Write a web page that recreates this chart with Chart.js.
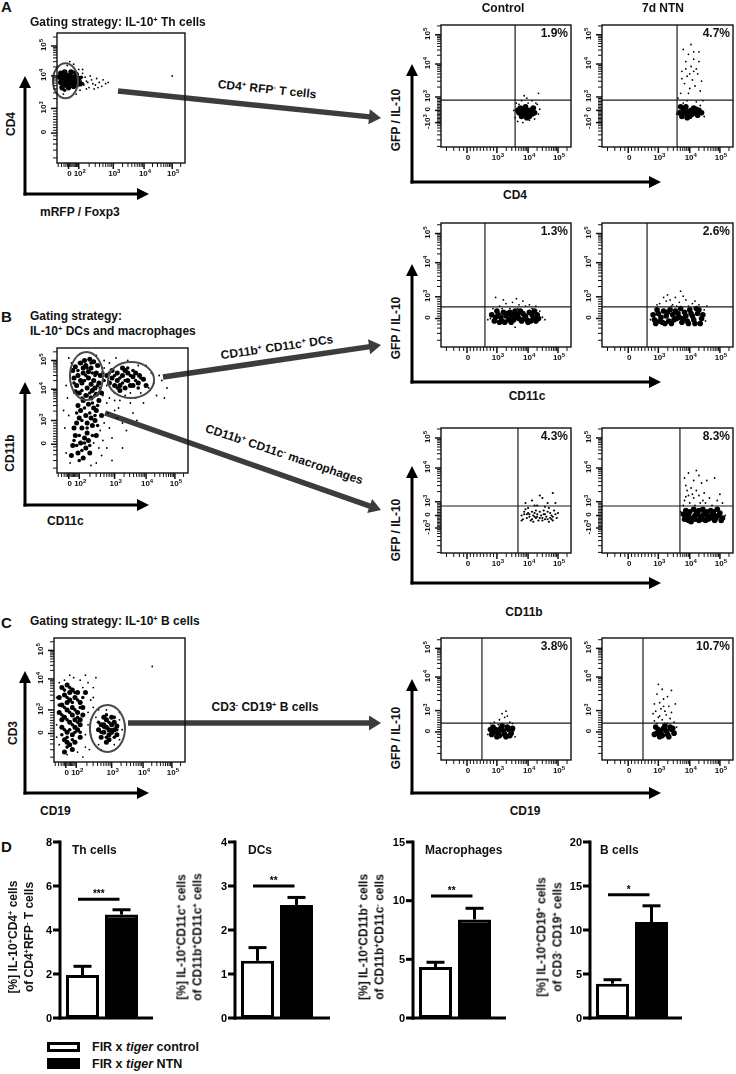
<!DOCTYPE html>
<html>
<head>
<meta charset="utf-8">
<title>IL-10 producing cells</title>
<script src="https://cdn.jsdelivr.net/npm/chart.js@4.4.1/dist/chart.umd.min.js"></script>
<style>
    body { margin: 0; background: #fff; }
    #page { position: relative; width: 736px; height: 1074px; overflow: hidden; background: #fff;
            font-family: "Liberation Sans", Arial, Helvetica, sans-serif; font-weight: bold; color: #111; }
    #page canvas { position: absolute; }
    #arrows { position: absolute; left: 0; top: 0; }
    .txt { position: absolute; white-space: nowrap; line-height: 1.3; text-align: center; }
    .txt sup { font-size: 0.62em; vertical-align: 0.55em; line-height: 0; }
    .box { position: absolute; box-sizing: border-box; border: 3px solid #000; }
</style>
</head>
<body>
<div id="page">
    <svg id="arrows" width="736" height="1074"></svg>
</div>
<script>
// ---------- data ----------

// flow plots: values are in display units (0-100 across each plot frame)
// axis tick positions and labels
const gateXPos = [9, 17, 44, 68, 90];
const gateXLab = ['0', '10^2', '10^3', '10^4', '10^5'];
const gateYPos = [23, 42, 67, 90];
const gateYLab = ['0', '10^3', '10^4', '10^5'];
const rightXPos = [20, 43, 67, 90];
const rightXLab = ['0', '10^3', '10^4', '10^5'];
const rightYPosA = [20, 30, 41, 68, 92];
const rightYLabA = ['-10^3', '0', '10^3', '10^4', '10^5'];
const rightYPosB = [23, 40.5, 68, 91.5];
const rightYLabB = ['0', '10^3', '10^4', '10^5'];

// quadrant percentages (IL-10+ gate)
const quadPct = ['1.9%', '4.7%', '1.3%', '2.6%', '4.3%', '8.3%', '3.8%', '10.7%'];

// A: Th cell gating (CD4 vs mRFP/Foxp3)
const thGateCore = [3,62, 5,66, 7,60, 8,64, 10,67, 12,62, 14,65, 6,70, 9,58, 11,70, 13,59, 15,68, 16,62, 4,58,
    2,66, 17,65, 10,63, 7,67, 12,66, 9,61, 5,62, 15,60, 3,69, 18,61];
const thGateFill = [4,64, 6,62, 8,68, 11,65, 13,63, 16,66, 6,56, 14,70, 19,66, 20,61];
const thGateSpread = [19,63, 21,60, 22,66, 24,62, 25,58, 27,64, 28,61, 30,60, 33,62, 35,59, 38,61, 20,69, 23,57,
    18,56, 26,67, 31,65, 29,57, 8,75, 13,76, 5,53, 15,53, 36,64, 90,67, 10,78, 20,72, 1,74, 32,58, 40,62, 23,63, 17,72];
const thCtrlCore = [60,28, 63,31, 66,27, 69,30, 72,28, 62,25, 65,33, 68,25, 71,32, 64,29, 67,30, 61,32, 70,27,
    66,24, 63,27, 59,30];
const thCtrlSpread = [58,36, 74,35, 70,38, 62,38, 66,40, 75,27, 57,24, 59,21, 68,22, 72,23, 75,44, 64,42, 60,35,
    73,36, 67,36, 56,30, 76,31, 63,20];
const thNtnCore = [59,28, 62,31, 65,27, 68,30, 71,28, 74,30, 61,25, 64,33, 67,25, 70,32, 73,26, 66,29, 60,33,
    76,28, 63,28, 69,27, 72,31, 65,24];
const thNtnSpread = [62,80, 66,76, 70,72, 64,70, 68,66, 72,64, 61,62, 65,58, 69,55, 73,60, 63,52, 67,48, 71,50,
    75,46, 60,44, 66,44, 74,70, 70,78, 76,54, 64,64, 62,36, 77,38, 58,40, 72,37, 68,84, 74,78, 61,56, 67,60,
    70,62, 65,38, 75,34, 57,27, 78,25];

// B: myeloid gating (CD11b vs CD11c)
const myeGateCore = [14,85, 18,88, 22,86, 26,84, 30,80, 16,78, 20,80, 24,76, 28,74, 15,70, 19,72, 23,68, 27,66,
    32,72, 17,64, 21,90, 25,91, 13,76, 31,86, 29,68, 12,82, 20,84, 24,81, 28,89, 33,78, 18,74, 22,62, 26,71,
    14,65, 30,63,
    42,76, 46,80, 50,78, 54,74, 58,77, 62,72, 48,70, 52,82, 56,70, 44,70, 60,80, 66,75, 40,72, 46,74, 50,84,
    54,80, 58,70, 63,78, 42,82, 48,66, 52,68, 38,78, 68,70,
    20,58, 24,55, 28,52, 18,50, 22,46, 26,44, 15,40, 19,36, 23,32, 27,38, 14,30, 18,24, 22,20, 16,16, 20,12,
    24,26, 30,30, 12,22, 34,46, 32,58, 17,44, 25,16, 21,28, 13,36, 29,42, 16,54, 26,60, 34,64, 30,50, 11,14, 23,40];
const myeGateFill = [16,82, 22,78, 26,88, 19,66, 25,64, 29,78, 13,72, 31,70, 23,84, 27,80, 17,88, 21,74,
    44,78, 48,76, 52,74, 56,78, 60,74, 64,76, 50,72, 46,68, 54,84, 58,82, 62,68, 40,80,
    21,52, 25,48, 19,42, 23,36, 17,30, 21,24, 15,22, 19,18, 27,30, 29,46, 13,26, 17,10, 25,22, 31,38, 15,48,
    23,62, 27,56, 19,60, 31,54, 33,68, 36,74, 35,80];
const myeGateSpread = [8,60, 35,62, 38,56, 36,40, 40,36, 44,50, 48,58, 52,62, 56,56, 60,60, 64,64, 70,68, 72,80,
    68,86, 74,72, 46,44, 42,28, 38,20, 34,14, 10,8, 30,8, 6,36, 9,46, 36,90, 40,88, 45,92, 76,62, 80,74, 58,48,
    50,40, 44,64, 62,86, 54,90, 33,34, 28,62, 11,88, 30,94, 66,56, 82,60, 50,20, 7,16, 42,10, 26,6, 39,48,
    47,52, 53,34, 61,42, 35,26, 40,60, 56,64, 78,78, 84,68, 7,70, 9,92, 38,70, 36,84, 44,58, 32,20, 28,24, 5,50];
const dcCtrlCore = [41,21, 44,26, 47,21, 50,25, 53,28, 56,22, 59,26, 62,21, 65,25, 68,28, 71,23, 74,26, 43,29,
    49,20, 55,27, 61,29, 67,20, 73,21, 46,24, 58,24, 64,23, 70,26, 52,22, 42,24, 45,20, 48,28, 51,27, 54,20,
    57,29, 60,23, 63,27, 66,22, 69,21, 72,29, 75,23, 54,25, 39,26];
const dcCtrlSpread = [45,33, 50,35, 55,36, 60,34, 65,33, 48,38, 58,39, 42,40, 78,24, 80,22, 38,23, 57,16, 53,31,
    63,37, 70,31, 76,29, 40,31, 68,34, 47,31, 73,33, 59,31, 36,22];
const dcNtnCore = [40,22, 43,27, 46,20, 49,25, 52,30, 55,22, 58,27, 61,20, 64,25, 67,30, 70,22, 73,27, 76,23,
    42,30, 48,19, 54,26, 60,31, 66,19, 72,31, 45,24, 57,23, 63,28, 69,25, 51,21, 75,19, 41,19, 44,21, 47,29,
    50,28, 53,19, 56,29, 59,24, 62,23, 65,21, 68,27, 71,19, 74,30, 77,26, 39,26];
const dcNtnSpread = [44,35, 49,37, 54,34, 59,36, 64,38, 69,35, 74,34, 50,42, 56,40, 62,41, 47,40, 78,30, 80,33,
    42,34, 66,33, 71,37, 57,33, 52,38, 60,45, 37,22, 79,21, 53,33];
const macCtrlPts = [62,30, 64,33, 66,28, 68,31, 70,27, 72,32, 74,29, 76,33, 78,28, 80,31, 82,27, 84,32, 86,29,
    88,31, 63,27, 65,35, 67,32, 69,26, 71,30, 73,34, 75,26, 77,30, 79,34, 81,29, 83,25, 85,30, 87,34, 89,28,
    66,31, 70,33, 74,31, 78,26, 82,33, 86,26, 72,29, 76,28, 80,27, 84,28, 68,29, 64,31, 62,26, 90,32, 65,40,
    70,42, 74,38, 78,44, 82,40, 86,48, 80,37, 72,38, 88,40, 76,46, 67,36, 83,36, 71,25, 79,31, 85,27, 73,28];
const macNtnCore = [63,27, 66,31, 69,28, 72,33, 75,29, 78,32, 81,27, 84,31, 87,28, 90,32, 64,34, 68,25, 71,30,
    74,26, 77,35, 80,30, 83,34, 86,26, 89,30, 92,28, 65,29, 76,27, 82,29, 70,35, 67,33, 73,31, 79,26, 85,33,
    88,35, 91,26, 62,31, 74,34, 80,33, 86,30, 66,26, 71,27, 77,30, 83,28];
const macNtnSpread = [63,60, 66,64, 70,58, 74,62, 64,54, 68,52, 72,50, 76,56, 80,58, 66,46, 70,44, 74,46, 78,48,
    82,44, 63,42, 67,40, 71,38, 75,40, 79,40, 84,38, 88,42, 92,40, 65,50, 86,60, 72,66, 90,47, 62,38, 69,47,
    77,42, 64,45, 94,30, 60,33];

// C: B cell gating (CD3 vs CD19)
const bGateCore = [6,60, 10,62, 14,58, 8,54, 12,50, 16,52, 20,48, 6,46, 10,42, 14,44, 18,40, 8,36, 12,32, 16,34,
    20,30, 6,28, 10,24, 14,22, 18,26, 8,18, 12,14, 16,16, 22,38, 4,40, 24,56, 20,20, 12,56, 18,56, 4,52, 22,44,
    10,48, 16,28, 6,34, 14,38, 10,16, 20,34, 8,8, 14,10,
    36,30, 40,34, 44,30, 38,24, 42,22, 46,26, 40,28, 36,20, 44,36, 48,22, 42,18, 38,36, 34,26, 46,32, 40,16,
    48,29, 42,26, 44,24, 38,30];
const bGateFill = [8,58, 12,60, 16,56, 10,52, 14,48, 18,50, 8,44, 12,40, 16,42, 20,44, 10,34, 14,30, 18,32, 8,26,
    12,26, 16,24, 10,20, 14,18, 6,38, 4,46, 22,52, 10,12, 6,22, 18,36, 20,24, 38,28, 42,32, 40,20, 44,26, 46,20,
    36,24, 40,38, 46,36, 34,32, 48,26];
const bGateSpread = [2,52, 26,64, 28,50, 26,30, 24,12, 4,14, 10,6, 18,8, 30,60, 30,44, 28,22, 32,36, 50,34, 52,26,
    34,14, 46,14, 50,40, 34,42, 24,70, 12,70, 20,66, 4,64, 27,10, 75,77, 32,68, 2,30, 22,4, 26,40, 30,52, 15,68,
    8,66, 24,22, 40,42, 54,30, 36,10, 50,18, 28,34, 22,60, 2,20];
const bCtrlCore = [39,21, 42,25, 45,20, 48,24, 51,27, 54,22, 40,27, 43,19, 46,26, 49,21, 52,25, 44,23, 50,19,
    41,23, 47,28, 53,20, 55,26, 38,25];
const bCtrlSpread = [41,31, 45,33, 49,35, 53,31, 47,38, 51,36, 55,30, 38,30, 56,24, 44,29, 50,40, 36,21, 57,19];
const bNtnCore = [40,21, 43,25, 46,20, 49,24, 52,27, 55,22, 41,27, 44,19, 47,26, 50,21, 53,25, 45,23, 42,22,
    48,28, 51,19, 54,26];
const bNtnSpread = [40,32, 43,35, 46,33, 49,37, 52,34, 41,40, 45,42, 48,40, 51,44, 44,47, 47,50, 50,52, 42,54,
    46,58, 53,57, 56,46, 39,38, 55,31, 48,30, 42,30, 44,36, 50,30, 43,62, 47,44, 40,46, 53,39, 57,27];

// D: bar charts
const cellTypes = ['Th cells', 'DCs', 'Macrophages', 'B cells'];
const groups = ['FIR x tiger control', 'FIR x tiger NTN'];
const ctrlMean = [1.95, 1.3, 4.35, 3.9];
const ctrlSem = [0.4, 0.3, 0.4, 0.45];
const ntnMean = [4.7, 2.57, 8.4, 10.9];
const ntnSem = [0.22, 0.17, 0.95, 1.85];
const yTicks = [[0, 2, 4, 6, 8], [0, 1, 2, 3, 4], [0, 5, 10, 15], [0, 5, 10, 15, 20]];
const sigY = [5.4, 3.0, 10.4, 14.0];
const sigStars = ['***', '**', '**', '*'];

// ---------- layout ----------
const FONT = '"Liberation Sans", Arial, Helvetica, sans-serif';
Chart.defaults.font.family = FONT;
const page = document.getElementById('page');
const svg = document.getElementById('arrows');
const barAxisX = [60, 235, 413, 590];
const barAxisLen = [93, 95, 93, 92];
const CORE_R = 2.8, FILL_R = 1.8, SPREAD_R = 0.9;

const pairs = flat => {
    const out = [];
    for (let i = 0; i < flat.length; i += 2) out.push({ x: flat[i], y: flat[i + 1] });
    return out;
};

function seg(ctx, x1, y1, x2, y2) {
    ctx.beginPath();
    ctx.moveTo(x1, y1);
    ctx.lineTo(x2, y2);
    ctx.stroke();
}

// label like '10^3' drawn as base + raised exponent, centred on (x, y)
function drawPow(ctx, lab, x, y) {
    const m = lab.split('^');
    ctx.textBaseline = 'middle';
    ctx.textAlign = 'left';
    ctx.font = 'bold 8px ' + FONT;
    const wb = ctx.measureText(m[0]).width;
    let we = 0;
    if (m[1]) {
        ctx.font = 'bold 6px ' + FONT;
        we = ctx.measureText(m[1]).width;
    }
    const x0 = x - (wb + we) / 2;
    ctx.font = 'bold 8px ' + FONT;
    ctx.fillText(m[0], x0, y);
    if (m[1]) {
        ctx.font = 'bold 6px ' + FONT;
        ctx.fillText(m[1], x0 + wb, y - 3);
    }
}

// major + minor tick positions of a log/linear flow axis
function tickSet(pos, labels) {
    const minor = [];
    for (let i = 0; i < pos.length - 1; i++) {
        const a = pos[i], b = pos[i + 1];
        const dec = labels[i].startsWith('10') && labels[i + 1].startsWith('10');
        for (let k = 2; k <= 9; k++) minor.push(dec ? a + (b - a) * Math.log10(k) : a + (b - a) * (k - 1) / 9);
    }
    const st = (pos[1] - pos[0]) / 9;
    for (let v = pos[0] - st, s = st; v > 0; s *= 1.3, v -= s) minor.push(v);
    const n = pos.length, d = pos[n - 1] - pos[n - 2];
    for (let k = 2; k <= 9; k++) {
        const v = pos[n - 1] + d * Math.log10(k);
        if (v < 100) minor.push(v);
    }
    return minor;
}

function drawFlowDeco(c, p) {
    const ctx = c.ctx, a = c.chartArea, xs = c.scales.x, ys = c.scales.y;
    ctx.save();
    // quadrant lines
    if (p.q) {
        ctx.strokeStyle = '#1a1a1a';
        ctx.lineWidth = 1.2;
        const qx = xs.getPixelForValue(p.q[0]), qy = ys.getPixelForValue(p.q[1]);
        seg(ctx, a.left, qy, a.right, qy);
        seg(ctx, qx, a.top, qx, a.bottom);
    }
    // gates
    ctx.strokeStyle = '#4a4a4a';
    ctx.lineWidth = 2;
    (p.gates || []).forEach(g => {
        const cx = xs.getPixelForValue(g[0]), cy = ys.getPixelForValue(g[1]);
        const rx = Math.abs(xs.getPixelForValue(g[0] + g[2]) - cx);
        const ry = Math.abs(ys.getPixelForValue(g[1] + g[3]) - cy);
        ctx.beginPath();
        ctx.ellipse(cx, cy, rx, ry, 0, 0, 2 * Math.PI);
        ctx.stroke();
    });
    // frame
    ctx.strokeStyle = '#111';
    ctx.lineWidth = 1.4;
    ctx.strokeRect(a.left, a.top, a.right - a.left, a.bottom - a.top);
    // ticks
    ctx.lineWidth = 1;
    ctx.fillStyle = '#111';
    const [xp, xl] = p.xt, [yp, yl] = p.yt;
    tickSet(xp, xl).forEach(v => { const x = xs.getPixelForValue(v); seg(ctx, x, a.bottom, x, a.bottom + 4); });
    tickSet(yp, yl).forEach(v => { const y = ys.getPixelForValue(v); seg(ctx, a.left - 4, y, a.left, y); });
    ctx.lineWidth = 1.5;
    xp.forEach((v, i) => {
        const x = xs.getPixelForValue(v);
        seg(ctx, x, a.bottom, x, a.bottom + 6);
        drawPow(ctx, xl[i], x + 1, a.bottom + 11);
    });
    yp.forEach((v, i) => {
        const y = ys.getPixelForValue(v);
        seg(ctx, a.left - 6, y, a.left, y);
        ctx.save();
        ctx.translate(a.left - 13, y - 1);
        ctx.rotate(-Math.PI / 2);
        drawPow(ctx, yl[i], 0, 0);
        ctx.restore();
    });
    ctx.restore();
}

function flowPlot(p) {
    const padL = 30, padT = 4, padR = 6, padB = 22;
    const cv = document.createElement('canvas');
    cv.width = p.f.w + padL + padR;
    cv.height = p.f.h + padT + padB;
    cv.style.left = (p.f.l - padL) + 'px';
    cv.style.top = (p.f.t - padT) + 'px';
    page.appendChild(cv);
    new Chart(cv.getContext('2d'), {
        type: 'scatter',
        data: {
            datasets: p.sets.map(s => ({
                data: pairs(s.pts),
                pointRadius: s.r,
                pointHoverRadius: s.r,
                pointBackgroundColor: '#000',
                pointBorderWidth: 0
            }))
        },
        options: {
            responsive: false,
            animation: false,
            events: [],
            layout: { padding: { left: padL, top: padT, right: padR, bottom: padB } },
            scales: {
                x: { type: 'linear', display: false, min: 0, max: 100 },
                y: { type: 'linear', display: false, min: 0, max: 100 }
            },
            plugins: { legend: { display: false }, tooltip: { enabled: false } }
        },
        plugins: [{ id: 'flowDeco', afterDraw: c => drawFlowDeco(c, p) }]
    });
    if (p.pct) put(p.pct, p.f.l + p.f.w - 3, p.f.t + 9, 12, 'r');
}

function drawBarDeco(c, i) {
    const ctx = c.ctx, a = c.chartArea, ys = c.scales.y, meta = c.getDatasetMeta(0);
    const axL = a.left - 3;
    ctx.save();
    ctx.strokeStyle = '#000';
    ctx.fillStyle = '#000';
    ctx.lineWidth = 3;
    // error bars, upper half only
    [[ctrlMean[i], ctrlSem[i]], [ntnMean[i], ntnSem[i]]].forEach(([m, e], j) => {
        const b = meta.data[j];
        const yT = ys.getPixelForValue(m + e);
        seg(ctx, b.x, b.y, b.x, yT);
        seg(ctx, b.x - 9, yT, b.x + 9, yT);
    });
    // axes
    seg(ctx, axL, a.top - 1.5, axL, a.bottom + 1.5);
    seg(ctx, axL - 1.5, a.bottom, axL + barAxisLen[i], a.bottom);
    ctx.font = 'bold 11px ' + FONT;
    ctx.textAlign = 'right';
    ctx.textBaseline = 'middle';
    yTicks[i].forEach(v => {
        const y = ys.getPixelForValue(v);
        seg(ctx, axL - 7, y, axL, y);
        ctx.fillText(String(v), axL - 8, y + 0.5);
    });
    // significance bar
    const x0 = meta.data[0].x - 4.5, x1 = meta.data[1].x - 2, yS = ys.getPixelForValue(sigY[i]);
    seg(ctx, x0, yS, x1, yS);
    ctx.textAlign = 'center';
    ctx.font = 'bold 10px ' + FONT;
    ctx.fillText(sigStars[i], (x0 + x1) / 2, yS - 5);
    ctx.restore();
}

function barPlot(i) {
    const ax = barAxisX[i];
    const cv = document.createElement('canvas');
    cv.width = 130;
    cv.height = 194;
    cv.style.left = (ax - 30) + 'px';
    cv.style.top = '830px';
    page.appendChild(cv);
    const ticks = yTicks[i];
    new Chart(cv.getContext('2d'), {
        type: 'bar',
        data: {
            labels: groups,
            datasets: [{
                data: [ctrlMean[i], ntnMean[i]],
                backgroundColor: ['#fff', '#000'],
                borderColor: '#000',
                borderWidth: 3,
                borderSkipped: false,
                barPercentage: 0.846,
                categoryPercentage: 1
            }]
        },
        options: {
            responsive: false,
            animation: false,
            events: [],
            layout: { padding: { left: 33, right: 19, top: 12, bottom: 6 } },
            scales: {
                x: { display: false },
                y: { display: false, min: 0, max: ticks[ticks.length - 1] }
            },
            plugins: { legend: { display: false }, tooltip: { enabled: false } }
        },
        plugins: [{ id: 'barDeco', afterDatasetsDraw: c => drawBarDeco(c, i) }]
    });
}

// positioned text
function put(html, x, y, size, anchor, rot) {
    const d = document.createElement('div');
    d.className = 'txt';
    d.innerHTML = html;
    d.style.fontSize = size + 'px';
    d.style.left = x + 'px';
    d.style.top = y + 'px';
    const tx = anchor === 'l' ? '0' : (anchor === 'r' ? '-100%' : '-50%');
    d.style.transform = 'translate(' + tx + ',-50%)' + (rot ? ' rotate(' + rot + 'deg)' : '');
    page.appendChild(d);
}

// arrows in svg
function arrow(x1, y1, x2, y2, w, col, hl, hw) {
    const dx = x2 - x1, dy = y2 - y1, L = Math.hypot(dx, dy), ux = dx / L, uy = dy / L;
    const bx = x2 - ux * hl, by = y2 - uy * hl;
    const ns = 'http://www.w3.org/2000/svg';
    const ln = document.createElementNS(ns, 'line');
    ln.setAttribute('x1', x1); ln.setAttribute('y1', y1);
    ln.setAttribute('x2', bx + ux); ln.setAttribute('y2', by + uy);
    ln.setAttribute('stroke', col); ln.setAttribute('stroke-width', w);
    ln.setAttribute('stroke-linecap', w > 4 ? 'butt' : 'square');
    svg.appendChild(ln);
    const pg = document.createElementNS(ns, 'polygon');
    pg.setAttribute('points', [x2, y2, bx - uy * hw / 2, by + ux * hw / 2, bx + uy * hw / 2, by - ux * hw / 2].join(' '));
    pg.setAttribute('fill', col);
    svg.appendChild(pg);
}

// ---------- panel A ----------
flowPlot({ f: { l: 57, t: 33, w: 128, h: 130 }, xt: [gateXPos, gateXLab], yt: [gateYPos, gateYLab],
    sets: [{ pts: thGateCore, r: CORE_R }, { pts: thGateFill, r: FILL_R }, { pts: thGateSpread, r: SPREAD_R }],
    gates: [[6.6, 63.3, 9.8, 13.5]] });
flowPlot({ f: { l: 441, t: 25, w: 130, h: 122 }, xt: [rightXPos, rightXLab], yt: [rightYPosA, rightYLabA],
    sets: [{ pts: thCtrlCore, r: CORE_R }, { pts: thCtrlSpread, r: SPREAD_R }], q: [57, 38.5], pct: quadPct[0] });
flowPlot({ f: { l: 602, t: 25, w: 131, h: 122 }, xt: [rightXPos, rightXLab], yt: [rightYPosA, rightYLabA],
    sets: [{ pts: thNtnCore, r: CORE_R }, { pts: thNtnSpread, r: SPREAD_R }], q: [57.3, 38.5], pct: quadPct[1] });

// ---------- panel B ----------
flowPlot({ f: { l: 57, t: 348, w: 131, h: 125 }, xt: [gateXPos, gateXLab], yt: [gateYPos, gateYLab],
    sets: [{ pts: myeGateCore, r: 2.5 }, { pts: myeGateFill, r: FILL_R }, { pts: myeGateSpread, r: SPREAD_R }],
    gates: [[22.5, 77.6, 12.6, 19.2], [56.5, 74.4, 17.6, 14.4]] });
flowPlot({ f: { l: 441, t: 223, w: 130, h: 124 }, xt: [rightXPos, rightXLab], yt: [rightYPosB, rightYLabB],
    sets: [{ pts: dcCtrlCore, r: CORE_R }, { pts: dcCtrlSpread, r: SPREAD_R }], q: [33.8, 32.3], pct: quadPct[2] });
flowPlot({ f: { l: 602, t: 223, w: 131, h: 124 }, xt: [rightXPos, rightXLab], yt: [rightYPosB, rightYLabB],
    sets: [{ pts: dcNtnCore, r: CORE_R }, { pts: dcNtnSpread, r: SPREAD_R }], q: [34.4, 32.3], pct: quadPct[3] });
flowPlot({ f: { l: 441, t: 428, w: 130, h: 125 }, xt: [rightXPos, rightXLab], yt: [rightYPosA, rightYLabA],
    sets: [{ pts: macCtrlPts, r: 1.1 }], q: [59.2, 37.6], pct: quadPct[4] });
flowPlot({ f: { l: 602, t: 428, w: 131, h: 125 }, xt: [rightXPos, rightXLab], yt: [rightYPosA, rightYLabA],
    sets: [{ pts: macNtnCore, r: CORE_R }, { pts: macNtnSpread, r: SPREAD_R }], q: [59.5, 37.6], pct: quadPct[5] });

// ---------- panel C ----------
flowPlot({ f: { l: 54, t: 638, w: 131, h: 124 }, xt: [gateXPos, gateXLab], yt: [gateYPos, gateYLab],
    sets: [{ pts: bGateCore, r: 2.5 }, { pts: bGateFill, r: FILL_R }, { pts: bGateSpread, r: SPREAD_R }],
    gates: [[40.8, 27, 13.4, 19]] });
flowPlot({ f: { l: 441, t: 638, w: 130, h: 122 }, xt: [rightXPos, rightXLab], yt: [rightYPosB, rightYLabB],
    sets: [{ pts: bCtrlCore, r: CORE_R }, { pts: bCtrlSpread, r: SPREAD_R }], q: [31.5, 30.3], pct: quadPct[6] });
flowPlot({ f: { l: 602, t: 638, w: 131, h: 122 }, xt: [rightXPos, rightXLab], yt: [rightYPosB, rightYLabB],
    sets: [{ pts: bNtnCore, r: CORE_R }, { pts: bNtnSpread, r: SPREAD_R }], q: [31.3, 30.3], pct: quadPct[7] });

// ---------- panel D ----------
cellTypes.forEach((t, i) => barPlot(i));

// ---------- arrows ----------
const GRAY = '#3c3c3c';
arrow(118, 91, 381, 118, 5.5, GRAY, 12, 15);
arrow(163, 377, 381, 345, 5.5, GRAY, 12, 15);
arrow(105, 413, 381, 510, 5.5, GRAY, 12, 15);
arrow(128, 723, 381, 723, 5.5, GRAY, 12, 15);
[[25, 194, 76, 149], [25, 505, 382, 149], [25, 793, 671, 149],
 [412, 182, 64, 661], [412, 382, 264, 661], [412, 583, 466, 661], [412, 793, 679, 661]].forEach(([x, y, tipY, tipX]) => {
    arrow(x, y, x, tipY, 3, '#000', 12, 12);
    arrow(x, y, tipX, y, 3, '#000', 12, 12);
});

// ---------- texts ----------
put('A', 1, 7, 15, 'l');
put('Gating strategy: IL-10<sup>+</sup> Th cells', 30, 23, 12, 'l');
put('Control', 503, 9, 12, 'c');
put('7d NTN', 663, 9, 12, 'c');
put('CD4<sup>+</sup> RFP<sup>-</sup> T cells', 267, 90, 12, 'c', 6);
put('CD4', 12, 124, 12, 'c', -90);
put('mRFP / Foxp3', 40, 213, 12, 'l');
[120, 328, 530, 738].forEach(y => put('GFP / IL-10', 397, y, 12, 'c', -90));
put('CD4', 515, 196, 12, 'c');
put('CD11c', 527, 397, 12, 'c');
put('CD11b', 524, 613, 12, 'c');
put('CD19', 525, 812, 12, 'c');

put('B', 1, 317, 15, 'l');
put('Gating strategy:', 30, 317, 12, 'l');
put('IL-10<sup>+</sup> DCs and macrophages', 30, 332, 12, 'l');
put('CD11b<sup>+</sup> CD11c<sup>+</sup> DCs', 277, 348, 12, 'c', -8.2);
put('CD11b<sup>+</sup> CD11c<sup>-</sup> macrophages', 284, 455, 12, 'c', 18.6);
put('CD11b', 11, 453, 12, 'c', -90);
put('CD11c', 47, 522, 12, 'l');

put('C', 1, 623, 15, 'l');
put('Gating strategy: IL-10<sup>+</sup> B cells', 30, 622, 12, 'l');
put('CD3<sup>-</sup> CD19<sup>+</sup> B cells', 265, 708, 12, 'c');
put('CD3', 14, 733, 12, 'c', -90);
put('CD19', 40, 812, 12, 'l');

put('D', 1, 847, 15, 'l');
const titleX = [72, 248, 425, 600];
cellTypes.forEach((t, i) => put(t, titleX[i], 851, 12, 'l'));
const yTitles = [
    '[%] IL-10<sup>+</sup>CD4<sup>+</sup> cells<br>of CD4<sup>+</sup>RFP<sup>-</sup> T cells',
    '[%] IL-10<sup>+</sup>CD11c<sup>+</sup> cells<br>of CD11b<sup>+</sup>CD11c<sup>+</sup> cells',
    '[%] IL-10<sup>+</sup>CD11b<sup>+</sup> cells<br>of CD11b<sup>+</sup>CD11c<sup>-</sup> cells',
    '[%] IL-10<sup>+</sup>CD19<sup>+</sup> cells<br>of CD3<sup>-</sup> CD19<sup>+</sup> cells'
];
const yTitleX = [21.5, 190, 372, 549.5];
yTitles.forEach((t, i) => put(t, yTitleX[i], 937, 12, 'c', -90));

// legend
const lb1 = document.createElement('div');
lb1.className = 'box';
Object.assign(lb1.style, { left: '47px', top: '1042px', width: '33px', height: '10px', background: '#fff' });
page.appendChild(lb1);
const lb2 = document.createElement('div');
lb2.className = 'box';
Object.assign(lb2.style, { left: '47px', top: '1058px', width: '33px', height: '11px', background: '#000' });
page.appendChild(lb2);
put('FIR x <i>tiger</i> control', 92, 1047, 12.5, 'l');
put('FIR x <i>tiger</i> NTN', 92, 1064, 12.5, 'l');
</script>
</body>
</html>
